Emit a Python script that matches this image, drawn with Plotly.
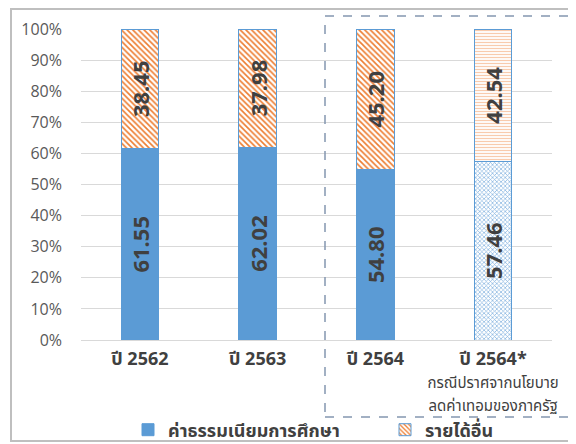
import plotly.graph_objects as go

categories = ["ปี 2562", "ปี 2563", "ปี 2564", "ปี 2564*"]
tuition = [61.55, 62.02, 54.80, 57.46]
other_income = [38.45, 37.98, 45.20, 42.54]
y_ticks = [0, 10, 20, 30, 40, 50, 60, 70, 80, 90, 100]
note_lines = ["กรณีปราศจากนโยบาย", "ลดค่าเทอมของภาครัฐ"]

THAI = "Noto Sans Thai, Tahoma, Leelawadee UI, Noto Sans, sans-serif"
NUM = "Open Sans, DejaVu Sans, sans-serif"
BLUE = "#5B9BD5"
ORANGE = "#ED7D31"
TXT = "#404040"

# page body has an 8px margin: work in window pixels and shift
OFF = 8
W, H = 576 - OFF, 444 - OFF
L, R, T, B = 81 - OFF, 552 - OFF, 29 - OFF, 340 - OFF
def px(x):
    return (x - OFF - L) / (R - L)
def py(y):
    return (B - (y - OFF)) / (B - T)

textfont = dict(family=NUM, size=22, color=TXT, weight="bold")
fig = go.Figure()
fig.add_trace(go.Bar(
    x=categories[:3], y=tuition[:3], name="ค่าธรรมเนียมการศึกษา", legend="legend",
    marker=dict(color=BLUE, line=dict(color=BLUE, width=1)),
    text=[f"{v:.2f}" for v in tuition[:3]], textposition="inside", textangle=-90,
    insidetextanchor="middle", constraintext="none", textfont=textfont, hoverinfo="skip",
))
fig.add_trace(go.Bar(
    x=categories[:3], y=other_income[:3], name="รายได้อื่น", legend="legend2",
    marker=dict(color="white", line=dict(color=BLUE, width=1),
                pattern=dict(shape="\\", fgcolor=ORANGE, bgcolor="white",
                             size=4, solidity=0.4, fillmode="replace")),
    text=[f"{v:.2f}" for v in other_income[:3]], textposition="inside", textangle=-90,
    insidetextanchor="middle", constraintext="none", textfont=textfont, hoverinfo="skip",
))
fig.add_trace(go.Bar(
    x=categories[3:], y=tuition[3:], name="ค่าธรรมเนียมการศึกษา", showlegend=False,
    marker=dict(color="white", line=dict(color=BLUE, width=1),
                pattern=dict(shape="x", fgcolor="#7FB0DE", bgcolor="white",
                             size=3, solidity=0.4, fillmode="replace")),
    text=[f"{v:.2f}" for v in tuition[3:]], textposition="inside", textangle=-90,
    insidetextanchor="middle", constraintext="none", textfont=textfont, hoverinfo="skip",
))
fig.add_trace(go.Bar(
    x=categories[3:], y=other_income[3:], name="รายได้อื่น", showlegend=False,
    marker=dict(color="white", line=dict(color=BLUE, width=1),
                pattern=dict(shape="-", fgcolor="#F8CBAD", bgcolor="white",
                             size=3, solidity=0.4, fillmode="replace")),
    text=[f"{v:.2f}" for v in other_income[3:]], textposition="inside", textangle=-90,
    insidetextanchor="middle", constraintext="none", textfont=textfont, hoverinfo="skip",
))

# tick labels: last one carries the two-line note beneath it
note_html = "".join(
    f"<br><span style='font-size:15px;font-weight:normal'>{ln}</span>" for ln in note_lines)
tick_text = categories[:3] + [categories[3] + note_html]

legfont = dict(family=THAI, size=18, color=TXT, weight="bold")
fig.update_layout(
    width=W, height=H,
    margin=dict(l=L, r=W - R, t=T, b=H - B, autoexpand=False),
    barmode="stack", bargap=0.68,
    plot_bgcolor="white", paper_bgcolor="white",
    font=dict(family=THAI, color=TXT),
    showlegend=True,
    legend=dict(orientation="h", x=px(128), xanchor="left", y=py(430), yanchor="middle",
                font=legfont, bgcolor="rgba(0,0,0,0)"),
    legend2=dict(orientation="h", x=px(385), xanchor="left", y=py(430), yanchor="middle",
                 font=legfont, bgcolor="rgba(0,0,0,0)"),
    xaxis=dict(showgrid=False, showline=True, linecolor="#d9d9d9", linewidth=1,
               categoryorder="array", categoryarray=categories,
               tickmode="array", tickvals=categories, ticktext=tick_text,
               tickfont=dict(family=THAI, size=18, color=TXT, weight="bold"),
               ticks="", ticklabelstandoff=2),
    yaxis=dict(range=[0, 100], tickvals=y_ticks, ticktext=[f"{v}%" for v in y_ticks],
               showgrid=True, gridcolor="#d9d9d9", gridwidth=1, zeroline=False,
               tickfont=dict(family=NUM, size=16, color="#595959"),
               ticks="", ticklabelstandoff=18),
)

shapes = [
    # outer frame
    dict(type="rect", xref="paper", yref="paper", x0=px(11), x1=px(590), y0=py(441), y1=py(9),
         line=dict(color="#bfbfbf", width=2), fillcolor="rgba(0,0,0,0)", layer="above"),
    # dashed box
    dict(type="rect", xref="paper", yref="paper", x0=px(325), x1=px(570), y0=py(417), y1=py(16),
         line=dict(color="#8497B0", width=1.5, dash="dash"), fillcolor="rgba(0,0,0,0)"),
]
fig.update_layout(shapes=shapes)

fig.write_html("out.html")
